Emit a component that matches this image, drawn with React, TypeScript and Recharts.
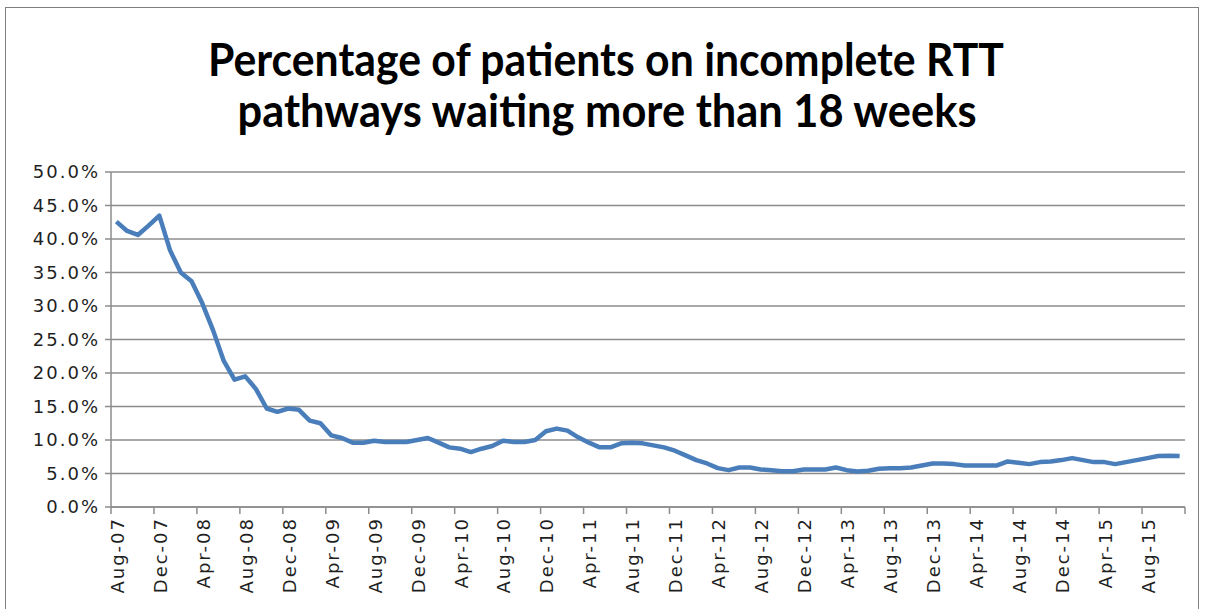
/**
 * RTT — Part des patients sur parcours incomplets attendant plus de 18 semaines
 *
 * Courbe mensuelle Aug-07 → Nov-15, axe catégoriel avec graduations entre les mois.
 */

import { LineChart, Line, XAxis, YAxis, CartesianGrid } from "recharts"

// ---------------------------------------------------------------------------
// Données
// ---------------------------------------------------------------------------

const MONTHS = [
  "Aug-07", "Sep-07", "Oct-07", "Nov-07", "Dec-07",
  "Jan-08", "Feb-08", "Mar-08", "Apr-08", "May-08", "Jun-08", "Jul-08", "Aug-08", "Sep-08", "Oct-08", "Nov-08", "Dec-08",
  "Jan-09", "Feb-09", "Mar-09", "Apr-09", "May-09", "Jun-09", "Jul-09", "Aug-09", "Sep-09", "Oct-09", "Nov-09", "Dec-09",
  "Jan-10", "Feb-10", "Mar-10", "Apr-10", "May-10", "Jun-10", "Jul-10", "Aug-10", "Sep-10", "Oct-10", "Nov-10", "Dec-10",
  "Jan-11", "Feb-11", "Mar-11", "Apr-11", "May-11", "Jun-11", "Jul-11", "Aug-11", "Sep-11", "Oct-11", "Nov-11", "Dec-11",
  "Jan-12", "Feb-12", "Mar-12", "Apr-12", "May-12", "Jun-12", "Jul-12", "Aug-12", "Sep-12", "Oct-12", "Nov-12", "Dec-12",
  "Jan-13", "Feb-13", "Mar-13", "Apr-13", "May-13", "Jun-13", "Jul-13", "Aug-13", "Sep-13", "Oct-13", "Nov-13", "Dec-13",
  "Jan-14", "Feb-14", "Mar-14", "Apr-14", "May-14", "Jun-14", "Jul-14", "Aug-14", "Sep-14", "Oct-14", "Nov-14", "Dec-14",
  "Jan-15", "Feb-15", "Mar-15", "Apr-15", "May-15", "Jun-15", "Jul-15", "Aug-15", "Sep-15", "Oct-15", "Nov-15",
]

// % des parcours incomplets > 18 semaines
const PCT_OVER_18W = [
  42.6, 41.2, 40.6, 42.0, 43.5,
  38.3, 35.0, 33.7, 30.4, 26.4, 21.8, 19.0, 19.5, 17.6, 14.7, 14.2, 14.7,
  14.5, 12.9, 12.5, 10.7, 10.3, 9.6, 9.6, 9.9, 9.7, 9.7, 9.7, 10.0,
  10.3, 9.6, 8.9, 8.7, 8.2, 8.7, 9.1, 9.9, 9.7, 9.7, 10.0, 11.3,
  11.7, 11.4, 10.4, 9.6, 8.9, 8.9, 9.5, 9.6, 9.5, 9.2, 8.9, 8.4,
  7.7, 7.0, 6.5, 5.8, 5.5, 5.9, 5.9, 5.6, 5.5, 5.35, 5.35, 5.6,
  5.6, 5.6, 5.9, 5.5, 5.3, 5.4, 5.7, 5.8, 5.8, 5.9, 6.2, 6.5,
  6.5, 6.4, 6.2, 6.2, 6.2, 6.2, 6.8, 6.6, 6.4, 6.7, 6.8, 7.0,
  7.3, 7.0, 6.7, 6.7, 6.4, 6.7, 7.0, 7.3, 7.6, 7.65, 7.6,
]

const Y_TICKS = [0, 5, 10, 15, 20, 25, 30, 35, 40, 45, 50]

const TITLE_LINES = [
  "Percentage of patients on incomplete RTT",
  "pathways waiting more than 18 weeks",
]

const data = MONTHS.map((month, i) => ({ month, value: PCT_OVER_18W[i] }))

// ---------------------------------------------------------------------------
// Style
// ---------------------------------------------------------------------------

const GRID = "#8c8c8c"
const LINE = "#4a7ebb"
const LABEL = "#1f1f1f"
const LABEL_FONT = "'DejaVu Sans', sans-serif"

// ---------------------------------------------------------------------------
// Ticks personnalisés
// ---------------------------------------------------------------------------

function XTick({ x, y, payload }: { x: number; y: number; payload: { value: string; offset?: number } }) {
  const half = payload.offset || 5.37
  const idx = MONTHS.indexOf(payload.value)
  const isLast = idx + 4 > MONTHS.length - 1
  const bx = x - half
  const endX = x + (MONTHS.length - idx - 0.5) * 2 * half
  return (
    <g>
      <line x1={bx} x2={bx} y1={y} y2={y + 7} stroke={GRID} strokeWidth={1.5} />
      {isLast && <line x1={endX} x2={endX} y1={y} y2={y + 7} stroke={GRID} strokeWidth={1.5} />}
      <text
        transform={`translate(${x + 1},${y + 10}) rotate(-90)`}
        textAnchor="end"
        dy="0.36em"
        fontFamily={LABEL_FONT}
        fontSize={18}
        letterSpacing={2}
        fill={LABEL}
      >
        {payload.value}
      </text>
    </g>
  )
}

function YTick({ x, y, payload }: { x: number; y: number; payload: { value: number } }) {
  return (
    <text
      x={x + 3}
      y={y}
      dy="0.36em"
      textAnchor="end"
      fontFamily={LABEL_FONT}
      fontSize={18}
      letterSpacing={2}
      fill={LABEL}
    >
      {`${payload.value.toFixed(1)}%`}
    </text>
  )
}

// ---------------------------------------------------------------------------
// Component
// ---------------------------------------------------------------------------

export default function App() {
  return (
    <div style={{ position: "absolute", left: 0, top: 0, width: 1206, height: 609, background: "#fff", overflow: "hidden" }}>
      <div
        style={{
          position: "absolute",
          left: 5,
          top: 7,
          width: 1194,
          height: 640,
          border: "1.5px solid #7f7f7f",
          boxSizing: "border-box",
        }}
      />

      <svg width={1206} height={150} style={{ position: "absolute", left: 0, top: 0 }}>
        <text x={606} y={76} textAnchor="middle" fontFamily="Lato, sans-serif" fontWeight={700}
          fontSize={45} textLength={796} lengthAdjust="spacingAndGlyphs" fill="#000">
          {TITLE_LINES[0]}
        </text>
        <text x={607} y={127} textAnchor="middle" fontFamily="Lato, sans-serif" fontWeight={700}
          fontSize={45} textLength={739} lengthAdjust="spacingAndGlyphs" fill="#000">
          {TITLE_LINES[1]}
        </text>
      </svg>

      <div style={{ position: "absolute", left: 0, top: 0 }}>
        <LineChart
          width={1206}
          height={609}
          data={data}
          margin={{ top: 172, right: 21, bottom: 12, left: 11 }}
        >
          <CartesianGrid horizontal vertical={false} stroke={GRID} strokeWidth={1.5} />

          <XAxis
            dataKey="month"
            scale="band"
            interval={3}
            height={90}
            tick={XTick}
            tickLine={false}
            tickSize={0}
            tickMargin={0}
            axisLine={{ stroke: GRID, strokeWidth: 1.5 }}
          />

          <YAxis
            domain={[0, 50]}
            ticks={Y_TICKS}
            width={100}
            tick={YTick}
            tickSize={6}
            tickMargin={8}
            tickLine={{ stroke: GRID, strokeWidth: 1.5 }}
            axisLine={{ stroke: GRID, strokeWidth: 1.5 }}
          />

          <Line
            type="linear"
            dataKey="value"
            stroke={LINE}
            strokeWidth={4.5}
            dot={false}
            strokeLinejoin="round"
            isAnimationActive={false}
          />
        </LineChart>
      </div>
    </div>
  )
}
